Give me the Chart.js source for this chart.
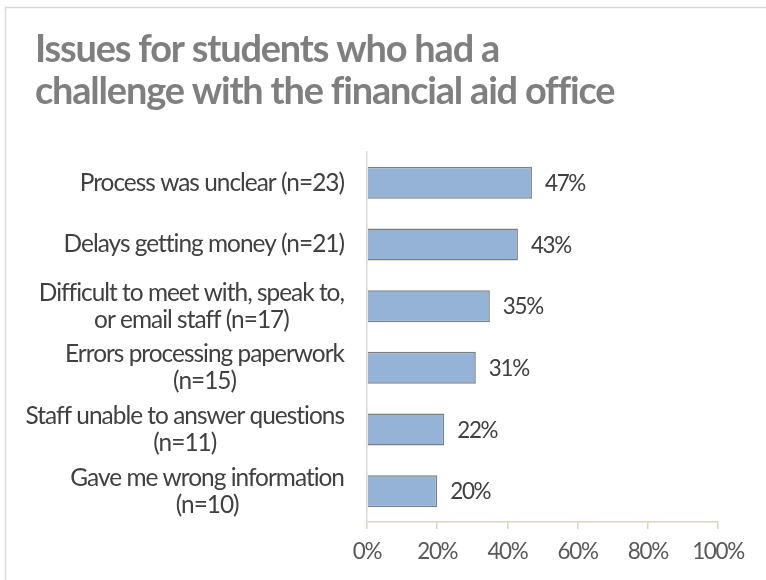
<!DOCTYPE html>
<html><head><meta charset="utf-8">
<script src="https://cdn.jsdelivr.net/npm/chart.js@4"></script>
<style>html,body{margin:0;padding:0;background:#fff;overflow:hidden}#wrap{width:766px;height:580px}</style>
</head><body><div id="wrap"><canvas id="c" width="766" height="580"></canvas></div>
<script>
const titleLines = ['Issues for students who had a', 'challenge with the financial aid office'];
const categories = [
  ['Process was unclear (n=23)'],
  ['Delays getting money (n=21)'],
  ['Difficult to meet with, speak to,', 'or email staff (n=17)'],
  ['Errors processing paperwork', '(n=15)'],
  ['Staff unable to answer questions', '(n=11)'],
  ['Gave me wrong information', '(n=10)']
];
const values = [47, 43, 35, 31, 22, 20];
const xTickValues = [0, 20, 40, 60, 80, 100];

const FAMILY = 'Lato';
const mctx = document.createElement('canvas').getContext('2d');
// pick a size 'grow' times the plain-fit size, then tighten letter spacing to keep target width
function fit(text, weight, target, grow) {
  mctx.letterSpacing = '0px';
  mctx.font = weight + ' 20px ' + FAMILY;
  const size = 20 * target / mctx.measureText(text).width * grow;
  mctx.font = weight + ' ' + size + 'px ' + FAMILY;
  const w = mctx.measureText(text).width;
  const ls = (target - w) / text.length;
  return { size, ls };
}
const titleF = fit(titleLines[1], 'bold', 577, 1.08);
const labelF = fit('Staff unable to answer questions', 'normal', 318, 1.1);
const valueF = fit('20%', 'normal', 40, 1.1);

const decor = {
  id: 'decor',
  beforeDraw(chart) {
    const ctx = chart.ctx;
    ctx.save();
    ctx.fillStyle = '#fff';
    ctx.fillRect(0, 0, chart.width, chart.height);
    ctx.strokeStyle = '#d9d9d9';
    ctx.lineWidth = 1.5;
    ctx.strokeRect(5.5, 7.5, chart.width + 20, chart.height + 20);
    ctx.fillStyle = '#7f7f7f';
    ctx.font = 'bold ' + titleF.size + 'px ' + FAMILY;
    ctx.letterSpacing = titleF.ls + 'px';
    ctx.textAlign = 'left';
    ctx.textBaseline = 'alphabetic';
    ctx.fillText(titleLines[0], 35, 62);
    ctx.fillText(titleLines[1], 35, 104);
    ctx.restore();
    ctx.letterSpacing = valueF.ls + 'px';
  },
  afterDraw(chart) {
    const ctx = chart.ctx;
    const ys = chart.scales.y;
    ctx.save();
    ctx.fillStyle = '#404040';
    ctx.font = labelF.size + 'px ' + FAMILY;
    ctx.letterSpacing = labelF.ls + 'px';
    ctx.textAlign = 'center';
    ctx.textBaseline = 'middle';
    const right = ys.right - 23;
    const lh = 27;
    categories.forEach((lines, i) => {
      const cy = ys.getPixelForTick(i);
      const w = Math.max(...lines.map(l => ctx.measureText(l).width));
      const cx = right - w / 2;
      const y0 = cy - (lines.length - 1) * lh / 2;
      lines.forEach((l, j) => ctx.fillText(l, cx, y0 + j * lh));
    });
    ctx.font = valueF.size + 'px ' + FAMILY;
    ctx.letterSpacing = valueF.ls + 'px';
    ctx.textAlign = 'left';
    const meta = chart.getDatasetMeta(0);
    meta.data.forEach((el, i) => {
      ctx.fillText(values[i] + '%', el.x + 13, el.y + 1);
    });
    ctx.restore();
  }
};

new Chart(document.getElementById('c'), {
  type: 'bar',
  data: {
    labels: categories,
    datasets: [{
      data: values,
      backgroundColor: '#95b3d7',
      borderColor: '#7f7f7f',
      borderWidth: 1.5,
      borderSkipped: 'start',
      barPercentage: 0.52,
      categoryPercentage: 1
    }]
  },
  options: {
    indexAxis: 'y',
    responsive: false,
    devicePixelRatio: 1,
    animation: false,
    layout: { padding: { top: 152, right: 48, left: 0, bottom: 0 } },
    plugins: { legend: { display: false }, tooltip: { enabled: false }, title: { display: false } },
    scales: {
      x: {
        min: 0, max: 100,
        afterBuildTicks(scale) { scale.ticks = xTickValues.map(v => ({ value: v })); },
        afterFit(scale) { scale.height = 58; },
        ticks: {
          callback: v => v + '%',
          color: '#595959',
          font: { family: FAMILY, size: valueF.size },
          padding: 9,
          maxRotation: 0
        },
        grid: { display: true, drawOnChartArea: false, drawTicks: true, tickLength: 7, color: '#d9d5bf', lineWidth: 1.5 },
        border: { display: true, color: '#d9d5bf', width: 1.5 }
      },
      y: {
        afterFit(scale) { scale.width = 367; },
        ticks: { display: false },
        grid: { display: false },
        border: { display: true, color: '#d9d9d9', width: 1.5 }
      }
    }
  },
  plugins: [decor]
});
</script></body></html>
